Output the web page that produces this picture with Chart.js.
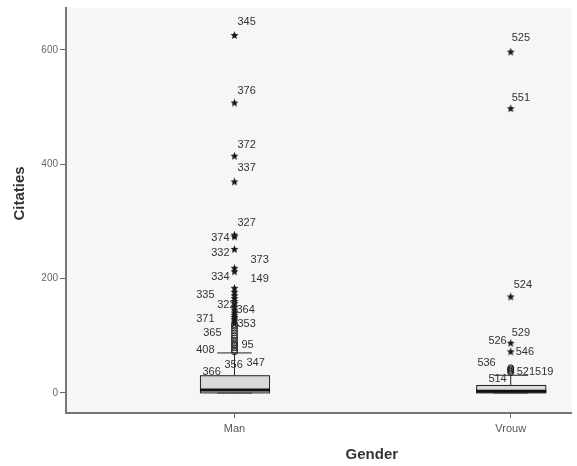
<!DOCTYPE html>
<html>
<head>
<meta charset="utf-8">
<script src="https://cdn.jsdelivr.net/npm/chart.js@4/dist/chart.umd.min.js"></script>
<style>
html,body{margin:0;padding:0;background:#fff;}
#wrap{width:577px;height:466px;position:relative;}
</style>
</head>
<body>
<div id="wrap"><canvas id="c" width="577" height="466"></canvas></div>
<script>
// ---- data ----
const categories = ['Man', 'Vrouw'];
const yTicks = [0, 200, 400, 600];
const q1 = [1, 1];
const medians = [5, 3];
const q3 = [31, 14];
const whiskerLow = [0, 0];
const whiskerHigh = [70, 31];
// mild outliers (circles)
const manCircles = [72, 75, 79, 83, 85, 88, 92, 96, 100, 105, 109, 113, 117, 120];
const vrouwCircles = [36, 38, 40, 42, 44];
// extreme outliers (stars)
const manStars = [122, 126, 129, 132, 136, 140, 145, 150, 156, 160, 165, 170, 176, 183, 212, 218, 251, 273, 276, 369, 414, 507, 625];
const vrouwStars = [72, 87, 168, 497, 596];
// case labels: text, category index, value
const labelText = ['345','376','372','337','327','374','332','373','334','149','335','322','364','371','353','365','95','408','356','347','366',
                   '525','551','524','529','526','546','536','521519','514'];
const labelCat = [0,0,0,0,0,0,0,0,0,0,0,0,0,0,0,0,0,0,0,0,0, 1,1,1,1,1,1,1,1,1];
const labelValue = [625,507,414,369,276,273,251,218,212,183,176,160,156,132,122,105,85,75,72,72,72,
                    596,497,168,87,87,72,44,40,36];
// label placement (pixel offsets from the point, alignment)
const labelStyle = [
  [3,-13,'left'],[3,-12,'left'],[3,-11,'left'],[3,-14,'left'],[3,-12,'left'],[-5,1,'right'],[-5,4,'right'],
  [16,-8,'left'],[-5,5,'right'],[16,-9,'left'],[-20,3,'right'],[1,4,'right'],[2,6,'left'],[-20,1,'right'],
  [3,1,'left'],[-13,0,'right'],[7,1,'left'],[-20,0,'right'],[-10,13,'left'],[12,11,'left'],[-32,20,'left'],
  [1,-14,'left'],[1,-11,'left'],[3,-12,'left'],[1,-10,'left'],[-4,-2,'right'],[5,0,'left'],[-15,-5,'right'],
  [6,2,'left'],[-4,7,'right']
];

// ---- star marker ----
function makeStar(size){
  const c = document.createElement('canvas');
  c.width = size; c.height = size;
  const g = c.getContext('2d');
  const cx = size/2, cy = size/2, ro = size/2 - 0.3, ri = ro*0.45;
  g.beginPath();
  for (let i = 0; i < 10; i++){
    const r = i % 2 === 0 ? ro : ri;
    const a = -Math.PI/2 + i*Math.PI/5;
    const x = cx + r*Math.cos(a), y = cy + r*Math.sin(a);
    if (i === 0) g.moveTo(x, y); else g.lineTo(x, y);
  }
  g.closePath();
  g.fillStyle = '#1a1a1a';
  g.fill();
  return c;
}
const starImg = makeStar(9);

const circleData = manCircles.map(v => ({x: 1, y: v})).concat(vrouwCircles.map(v => ({x: 2, y: v})));
const starData = manStars.map(v => ({x: 1, y: v})).concat(vrouwStars.map(v => ({x: 2, y: v})));

const BOX_W = 0.25;
const CAP_W = 0.125;

const plotBg = {
  id: 'plotBg',
  beforeDraw(chart){
    const {ctx, chartArea: a} = chart;
    ctx.save();
    ctx.fillStyle = '#f6f6f6';
    ctx.fillRect(a.left, a.top, a.right - a.left, a.bottom - a.top);
    ctx.restore();
  }
};

const boxes = {
  id: 'boxes',
  beforeDatasetsDraw(chart){
    const {ctx} = chart;
    const xs = chart.scales.x, ys = chart.scales.y;
    ctx.save();
    categories.forEach((c, i) => {
      const cx = i + 1;
      const l = xs.getPixelForValue(cx - BOX_W/2), r = xs.getPixelForValue(cx + BOX_W/2);
      const xm = xs.getPixelForValue(cx);
      const cl = xs.getPixelForValue(cx - CAP_W/2), cr = xs.getPixelForValue(cx + CAP_W/2);
      const yq1 = ys.getPixelForValue(q1[i]), yq3 = ys.getPixelForValue(q3[i]);
      const ymed = ys.getPixelForValue(medians[i]);
      const ywh = ys.getPixelForValue(whiskerHigh[i]), ywl = ys.getPixelForValue(whiskerLow[i]);
      ctx.strokeStyle = '#222';
      ctx.lineWidth = 1;
      // whiskers
      ctx.beginPath();
      ctx.moveTo(xm, yq3); ctx.lineTo(xm, ywh);
      ctx.moveTo(cl, ywh); ctx.lineTo(cr, ywh);
      ctx.moveTo(xm, yq1); ctx.lineTo(xm, ywl);
      ctx.moveTo(cl, ywl); ctx.lineTo(cr, ywl);
      ctx.stroke();
      // box
      ctx.fillStyle = '#d9d9d9';
      ctx.fillRect(l, yq3, r - l, yq1 - yq3);
      ctx.strokeRect(l + 0.5, yq3 + 0.5, r - l, yq1 - yq3);
      // median
      ctx.lineWidth = 3;
      ctx.strokeStyle = '#111';
      ctx.beginPath();
      ctx.moveTo(l, ymed); ctx.lineTo(r + 1, ymed);
      ctx.stroke();
    });
    ctx.restore();
  }
};

const caseLabels = {
  id: 'caseLabels',
  afterDatasetsDraw(chart){
    const {ctx} = chart;
    const xs = chart.scales.x, ys = chart.scales.y;
    ctx.save();
    ctx.font = '11px "Liberation Sans", Arial, sans-serif';
    ctx.fillStyle = '#333';
    ctx.textBaseline = 'middle';
    labelText.forEach((t, i) => {
      const px = xs.getPixelForValue(labelCat[i] + 1);
      const py = ys.getPixelForValue(labelValue[i]);
      const [dx, dy, al] = labelStyle[i];
      ctx.textAlign = al;
      ctx.fillText(t, px + dx, py + dy);
    });
    ctx.restore();
  }
};

const axisTitles = {
  id: 'axisTitles',
  afterDraw(chart){
    const {ctx, chartArea: a} = chart;
    ctx.save();
    ctx.font = 'bold 15px "Liberation Sans", Arial, sans-serif';
    ctx.fillStyle = '#333';
    ctx.textAlign = 'center';
    ctx.textBaseline = 'middle';
    ctx.fillText('Gender', a.left + (a.right - a.left) * 0.605, a.bottom + 42);
    ctx.translate(a.left - 46, a.top + (a.bottom - a.top) * 0.458);
    ctx.rotate(-Math.PI/2);
    ctx.fillText('Citaties', 0, 0);
    ctx.restore();
  }
};

new Chart(document.getElementById('c'), {
  type: 'scatter',
  data: {
    datasets: [
      {
        label: 'mild',
        data: circleData,
        pointStyle: 'circle',
        pointRadius: 3,
        pointBorderWidth: 1,
        pointBorderColor: '#222',
        pointBackgroundColor: 'rgba(0,0,0,0)'
      },
      {
        label: 'extreme',
        data: starData,
        pointStyle: starImg,
        pointRadius: 4.5
      }
    ]
  },
  options: {
    responsive: false,
    animation: false,
    events: [],
    layout: {padding: {top: 6, right: 4, left: 0, bottom: 0}},
    plugins: {legend: {display: false}, tooltip: {enabled: false}, title: {display: false}},
    scales: {
      x: {
        type: 'linear',
        min: 0.39, max: 2.22,
        afterBuildTicks: s => { s.ticks = categories.map((c, i) => ({value: i + 1})); },
        afterFit: s => { s.height = 53; },
        ticks: {
          callback: v => categories[Math.round(v) - 1] || '',
          font: {size: 11, family: '"Liberation Sans", Arial, sans-serif'},
          color: '#555',
          padding: 4,
          maxRotation: 0
        },
        grid: {drawOnChartArea: false, drawTicks: true, tickLength: 5, color: '#666', lineWidth: 1},
        border: {display: true, color: '#777', width: 2}
      },
      y: {
        type: 'linear',
        min: -35, max: 673,
        afterBuildTicks: s => { s.ticks = yTicks.map(v => ({value: v})); },
        afterFit: s => { s.width = 66; },
        ticks: {
          font: {size: 10, family: '"Liberation Sans", Arial, sans-serif'},
          color: '#666',
          padding: 2
        },
        grid: {drawOnChartArea: false, drawTicks: true, tickLength: 6, color: '#666', lineWidth: 1},
        border: {display: true, color: '#777', width: 2}
      }
    }
  },
  plugins: [plotBg, boxes, caseLabels, axisTitles]
});
</script>
</body>
</html>
